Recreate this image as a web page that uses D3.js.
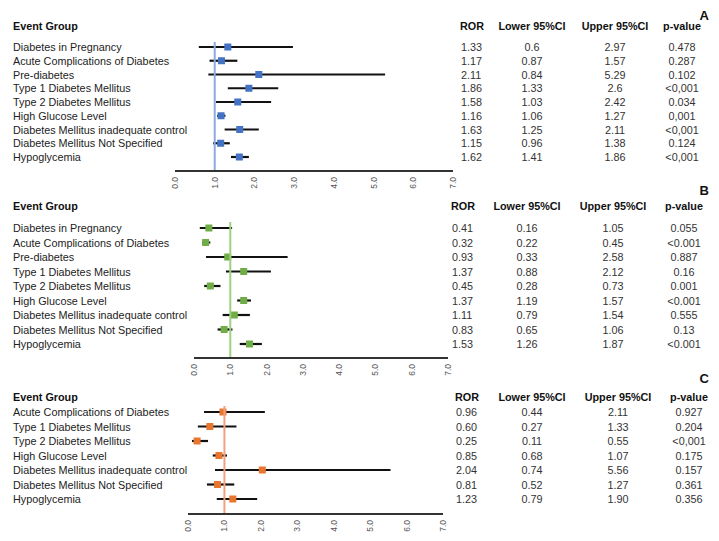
<!DOCTYPE html>
<html>
<head>
<meta charset="utf-8">
<script src="https://cdn.jsdelivr.net/npm/d3@7"></script>
<style>
  html, body { margin: 0; padding: 0; background: #fff; }
  svg { display: block; font-family: "Liberation Sans", Arial, sans-serif; }
</style>
</head>
<body>
<svg id="chart" width="719" height="541"></svg>
<script>
// ---- Data ----
const categoriesA = ["Diabetes in Pregnancy","Acute Complications of Diabetes","Pre-diabetes","Type 1 Diabetes Mellitus","Type 2 Diabetes Mellitus","High Glucose Level","Diabetes Mellitus inadequate control","Diabetes Mellitus Not Specified","Hypoglycemia"];
const rorA   = ["1.33","1.17","2.11","1.86","1.58","1.16","1.63","1.15","1.62"];
const lowerA = ["0.6","0.87","0.84","1.33","1.03","1.06","1.25","0.96","1.41"];
const upperA = ["2.97","1.57","5.29","2.6","2.42","1.27","2.11","1.38","1.86"];
const pA     = ["0.478","0.287","0.102","<0,001","0.034","0,001","<0,001","0.124","<0,001"];

const categoriesB = ["Diabetes in Pregnancy","Acute Complications of Diabetes","Pre-diabetes","Type 1 Diabetes Mellitus","Type 2 Diabetes Mellitus","High Glucose Level","Diabetes Mellitus inadequate control","Diabetes Mellitus Not Specified","Hypoglycemia"];
const rorB   = ["0.41","0.32","0.93","1.37","0.45","1.37","1.11","0.83","1.53"];
const lowerB = ["0.16","0.22","0.33","0.88","0.28","1.19","0.79","0.65","1.26"];
const upperB = ["1.05","0.45","2.58","2.12","0.73","1.57","1.54","1.06","1.87"];
const pB     = ["0.055","<0.001","0.887","0.16","0.001","<0.001","0.555","0.13","<0.001"];

const categoriesC = ["Acute Complications of Diabetes","Type 1 Diabetes Mellitus","Type 2 Diabetes Mellitus","High Glucose Level","Diabetes Mellitus inadequate control","Diabetes Mellitus Not Specified","Hypoglycemia"];
const rorC   = ["0.96","0.60","0.25","0.85","2.04","0.81","1.23"];
const lowerC = ["0.44","0.27","0.11","0.68","0.74","0.52","0.79"];
const upperC = ["2.11","1.33","0.55","1.07","5.56","1.27","1.90"];
const pC     = ["0.927","0.204","<0,001","0.175","0.157","0.361","0.356"];

const tickValues = [0,1,2,3,4,5,6,7];
const panelLetters = ["A","B","C"];
const headers = ["Event Group","ROR","Lower 95%CI","Upper 95%CI","p-value"];

// ---- Layout (per panel) ----
const panels = [
  { letter: panelLetters[0], cats: categoriesA, ror: rorA, lo: lowerA, hi: upperA, p: pA,
    x0: 175, x1: 453, axisY: 171, headerY: 30, rowY0: 47, rowStep: 13.75, letterY: 20,
    rorX: 460, lowX: 532, upX: 615, pX: 682, refTop: 42,
    marker: "#4472C4", refColor: "#8EA9E0" },
  { letter: panelLetters[1], cats: categoriesB, ror: rorB, lo: lowerB, hi: upperB, p: pB,
    x0: 194, x1: 448, axisY: 358, headerY: 210, rowY0: 228, rowStep: 14.5, letterY: 195,
    rorX: 451, lowX: 527, upX: 613, pX: 684, refTop: 222,
    marker: "#70AD47", refColor: "#9DD07F" },
  { letter: panelLetters[2], cats: categoriesC, ror: rorC, lo: lowerC, hi: upperC, p: pC,
    x0: 188, x1: 443, axisY: 514, headerY: 401, rowY0: 412, rowStep: 14.5, letterY: 383,
    rorX: 455, lowX: 532, upX: 618, pX: 689, refTop: 406,
    marker: "#E8762E", refColor: "#F2A07E" }
];

const svg = d3.select("#chart");
const fs = 10.8;

panels.forEach(P => {
  const g = svg.append("g");
  const x = d3.scaleLinear().domain([0, 7]).range([P.x0, P.x1]);
  const rows = P.cats.map((c, i) => ({ c, ror: +P.ror[i], lo: +P.lo[i], hi: +P.hi[i],
    rs: P.ror[i], ls: P.lo[i], hs: P.hi[i], ps: P.p[i] }));
  const y = d3.scaleLinear().domain([0, 1]).range([P.rowY0, P.rowY0 + P.rowStep]);

  // headers
  g.append("text").attr("x", 13).attr("y", P.headerY).attr("font-size", fs).attr("font-weight", "bold")
    .attr("fill", "#111").text(headers[0]);
  g.append("text").attr("x", P.rorX).attr("y", P.headerY).attr("font-size", fs).attr("font-weight", "bold")
    .attr("fill", "#111").text(headers[1]);
  [[P.lowX, headers[2]], [P.upX, headers[3]], [P.pX, headers[4]]].forEach(([hx, t]) => {
    g.append("text").attr("x", hx).attr("y", P.headerY).attr("font-size", fs).attr("font-weight", "bold")
      .attr("text-anchor", "middle").attr("fill", "#111").text(t);
  });
  g.append("text").attr("x", 709).attr("y", P.letterY).attr("font-size", 13).attr("font-weight", "bold")
    .attr("text-anchor", "end").attr("fill", "#111").text(P.letter);

  // row labels and table
  const rg = g.selectAll("g.row").data(rows).join("g").attr("class", "row");
  rg.append("text").attr("x", 13).attr("y", (d, i) => y(i) + 4).attr("font-size", fs).attr("fill", "#222").text(d => d.c);
  rg.append("text").attr("x", P.rorX + 1).attr("y", (d, i) => y(i) + 4).attr("font-size", fs).attr("fill", "#333").text(d => d.rs);
  rg.append("text").attr("x", P.lowX).attr("y", (d, i) => y(i) + 4).attr("font-size", fs).attr("text-anchor", "middle").attr("fill", "#333").text(d => d.ls);
  rg.append("text").attr("x", P.upX).attr("y", (d, i) => y(i) + 4).attr("font-size", fs).attr("text-anchor", "middle").attr("fill", "#333").text(d => d.hs);
  rg.append("text").attr("x", P.pX).attr("y", (d, i) => y(i) + 4).attr("font-size", fs).attr("text-anchor", "middle").attr("fill", "#333").text(d => d.ps);

  // reference line
  g.append("line").attr("x1", x(1)).attr("x2", x(1)).attr("y1", P.refTop).attr("y2", P.axisY + 1)
    .attr("stroke", P.refColor).attr("stroke-width", 2);

  // whiskers
  rg.append("line").attr("x1", d => x(d.lo)).attr("x2", d => x(d.hi))
    .attr("y1", (d, i) => y(i)).attr("y2", (d, i) => y(i))
    .attr("stroke", "#111").attr("stroke-width", 2.2);
  // markers
  rg.append("rect").attr("x", d => x(d.ror) - 3.5).attr("y", (d, i) => y(i) - 3.5)
    .attr("width", 7).attr("height", 7).attr("fill", P.marker);

  // axis
  g.append("line").attr("x1", P.x0).attr("x2", P.x1).attr("y1", P.axisY).attr("y2", P.axisY)
    .attr("stroke", "#333").attr("stroke-width", 2);
  g.selectAll("text.tick").data(tickValues).join("text").attr("class", "tick")
    .attr("transform", d => `translate(${x(d) + 3},${P.axisY + 6}) rotate(-90)`)
    .attr("text-anchor", "end").attr("font-size", 8.5).attr("fill", "#555")
    .text(d => d3.format(".1f")(d));
});
</script>
</body>
</html>
